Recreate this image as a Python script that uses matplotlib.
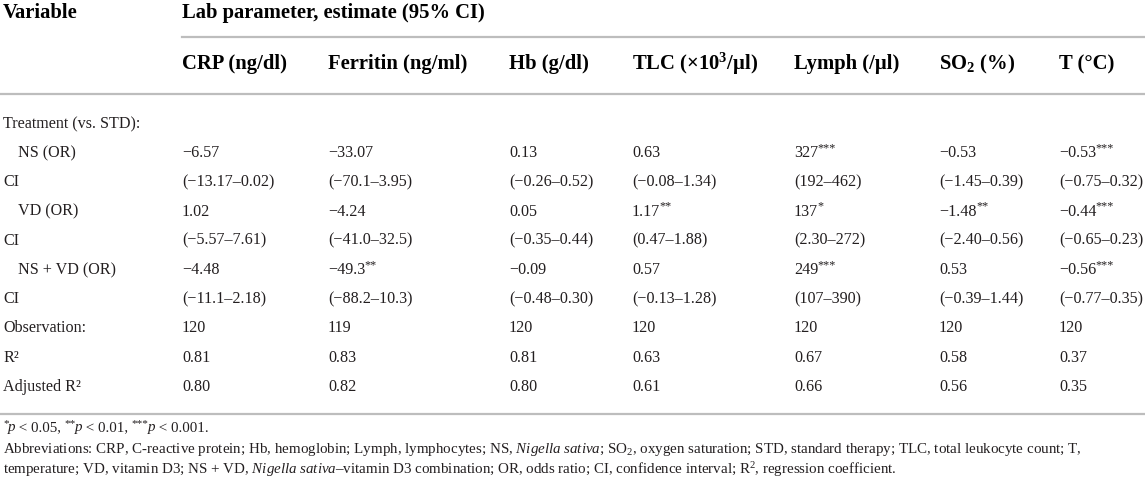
import matplotlib
matplotlib.use("Agg")
import matplotlib.pyplot as plt

plt.rcParams['font.family'] = ['Liberation Serif', 'DejaVu Serif']
plt.rcParams['mathtext.fontset'] = 'custom'
plt.rcParams['mathtext.rm'] = 'Liberation Serif'
plt.rcParams['mathtext.it'] = 'Liberation Serif:italic'
plt.rcParams['mathtext.bf'] = 'Liberation Serif:bold'

# table content
col_headers = ['CRP (ng/dl)', 'Ferritin (ng/ml)', 'Hb (g/dl)',
               r'TLC (×10$^{\mathbf{3}}$/µl)', 'Lymph (/µl)',
               r'SO$_{\mathbf{2}}$ (%)', 'T (°C)']
row_labels = ['Treatment (vs. STD):', 'NS (OR)', 'CI', 'VD (OR)', 'CI',
              'NS + VD (OR)', 'CI', 'Observation:', 'R²', 'Adjusted R²']
indented = [False, True, False, True, False, True, False, False, False, False]

ns_est = ['−6.57', '−33.07', '0.13', '0.63', '327***', '−0.53', '−0.53***']
ns_ci = ['(−13.17–0.02)', '(−70.1–3.95)', '(−0.26–0.52)', '(−0.08–1.34)',
         '(192–462)', '(−1.45–0.39)', '(−0.75–0.32)']
vd_est = ['1.02', '−4.24', '0.05', '1.17**', '137*', '−1.48**', '−0.44***']
vd_ci = ['(−5.57–7.61)', '(−41.0–32.5)', '(−0.35–0.44)', '(0.47–1.88)',
         '(2.30–272)', '(−2.40–0.56)', '(−0.65–0.23)']
nsvd_est = ['−4.48', '−49.3**', '−0.09', '0.57', '249***', '0.53', '−0.56***']
nsvd_ci = ['(−11.1–2.18)', '(−88.2–10.3)', '(−0.48–0.30)', '(−0.13–1.28)',
           '(107–390)', '(−0.39–1.44)', '(−0.77–0.35)']
observations = [120, 119, 120, 120, 120, 120, 120]
r2 = [0.81, 0.83, 0.81, 0.63, 0.67, 0.58, 0.37]
adj_r2 = [0.80, 0.82, 0.80, 0.61, 0.66, 0.56, 0.35]

footnote1 = [('*', 'sup'), ('p', 'it'), (' < 0.05, ', ''), ('**', 'sup'), ('p', 'it'),
             (' < 0.01, ', ''), ('***', 'sup'), ('p', 'it'), (' < 0.001.', '')]
footnote2 = (r'Abbreviations: CRP, C-reactive protein; Hb, hemoglobin; Lymph, lymphocytes; '
             r'NS, $\mathit{Nigella\ sativa}$; SO$_2$, oxygen saturation; STD, standard therapy; '
             r'TLC, total leukocyte count; T,')
footnote3 = (r'temperature; VD, vitamin D3; NS + VD, $\mathit{Nigella\ sativa}$–vitamin D3 combination; '
             r'OR, odds ratio; CI, confidence interval; R$^2$, regression coefficient.')

W, H = 1145, 482
fig = plt.figure(figsize=(W / 100, H / 100), dpi=100)
ax = fig.add_axes([0, 0, 1, 1])
ax.set_xlim(0, W)
ax.set_ylim(H, 0)
ax.axis('off')
renderer = fig.canvas.get_renderer()

text_c = '#231f20'
line_c = '#bdbdbd'


def draw_segments(x, y, segs, size):
    # draw pieces one after another, stars as small raised text
    px = size * 100 / 72
    for txt, kind in segs:
        if kind == 'sup':
            t = ax.text(x, y - 0.32 * px, txt, fontsize=size * 0.75, va='center', color=text_c)
        else:
            t = ax.text(x, y, txt, fontsize=size, va='center', color=text_c,
                        fontstyle='italic' if kind == 'it' else 'normal')
        x += t.get_window_extent(renderer).width - 0.5


def cell(x, y, s, size):
    base = s.rstrip('*')
    segs = [(base, '')]
    if len(s) > len(base):
        segs.append((s[len(base):], 'sup'))
    draw_segments(x, y, segs, size)


col_x = [182, 328, 509, 632, 794, 939, 1059]
fs = 11.6
hfs = 14.9

# header
ax.text(3, 13, 'Variable', fontsize=hfs, fontweight='bold', va='center', color='black')
ax.text(col_x[0], 13, 'Lab parameter, estimate (95% CI)', fontsize=hfs,
        fontweight='bold', va='center', color='black')
ax.plot([col_x[0], W], [37, 37], color=line_c, lw=1.6)
for x, h in zip(col_x, col_headers):
    ax.text(x, 64, h, fontsize=hfs, fontweight='bold', va='center', color='black')
ax.plot([0, W], [94, 94], color=line_c, lw=1.6)

# body
rows = [[''] * 7, ns_est, ns_ci, vd_est, vd_ci, nsvd_est, nsvd_ci,
        [str(v) for v in observations],
        [f'{v:.2f}' for v in r2],
        [f'{v:.2f}' for v in adj_r2]]
y0, dy = 124, 29.2
for i, (lab, ind, vals) in enumerate(zip(row_labels, indented, rows)):
    y = y0 + i * dy
    ax.text(18 if ind else 3, y, lab, fontsize=fs, va='center', color=text_c)
    for x, v in zip(col_x, vals):
        if v:
            cell(x, y, v, fs)

ax.plot([0, W], [414, 414], color=line_c, lw=1.6)

# footnotes
ffs = 10.8
draw_segments(3, 428, footnote1, ffs)
ax.text(3, 449, footnote2, fontsize=ffs, va='center', color=text_c)
ax.text(3, 470, footnote3, fontsize=ffs, va='center', color=text_c)

fig.savefig('out.png', dpi=100, facecolor='white')
